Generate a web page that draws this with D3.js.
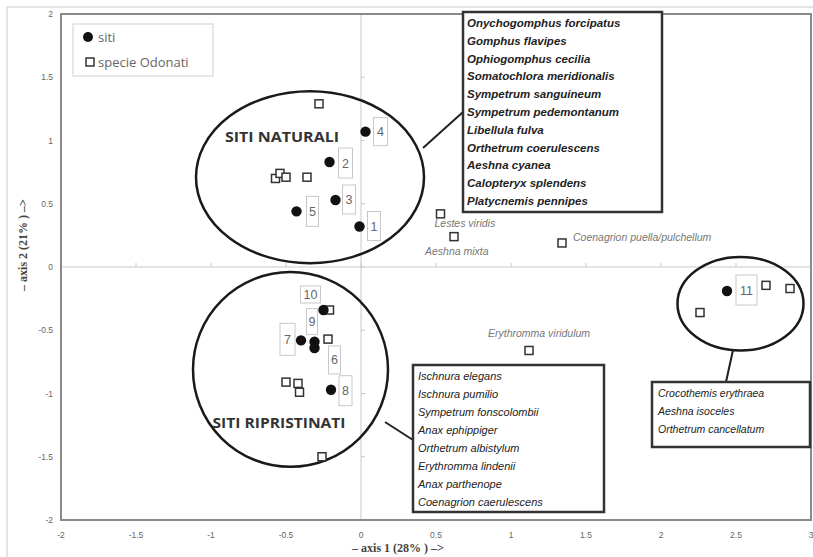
<!DOCTYPE html>
<html><head><meta charset="utf-8">
<script src="https://cdn.jsdelivr.net/npm/d3@7"></script>
<style>body{margin:0;background:#fff}svg{display:block}</style>
</head><body>
<svg id="c" width="813" height="557"></svg>
<script>
// ---- data ----
const xTicks = [-2,-1.5,-1,-0.5,0,0.5,1,1.5,2,2.5,3];
const yTicks = [-2,-1.5,-1,-0.5,0,0.5,1,1.5,2];
const siteLabels = ['1','2','3','4','5','6','7','8','9','10','11'];
const siteX = [-0.01,-0.21,-0.17,0.03,-0.43,-0.31,-0.40,-0.20,-0.31,-0.25,2.44];
const siteY = [0.32,0.83,0.53,1.07,0.44,-0.64,-0.58,-0.97,-0.59,-0.34,-0.19];
const speciesX = [-0.28,-0.36,-0.57,-0.54,-0.50,0.53,0.62,1.34,1.12,-0.21,-0.22,-0.50,-0.42,-0.41,-0.26,2.70,2.86,2.26];
const speciesY = [1.29,0.71,0.70,0.74,0.71,0.42,0.24,0.19,-0.66,-0.34,-0.57,-0.91,-0.92,-0.99,-1.50,-0.145,-0.17,-0.36];
const namedSpecies = ['Lestes viridis','Aeshna mixta','Coenagrion puella/pulchellum','Erythromma viridulum'];
const namedSpeciesIdx = [5,6,7,8];
const groupNames = ['SITI NATURALI','SITI RIPRISTINATI',''];
const groupCX = [-0.34,-0.47,2.53];
const groupCY = [0.71,-0.81,-0.29];
const groupRX = [0.76,0.65,0.42];
const groupRY = [0.68,0.77,0.37];
const naturalSpecies = ['Onychogomphus forcipatus','Gomphus flavipes','Ophiogomphus cecilia','Somatochlora meridionalis','Sympetrum sanguineum','Sympetrum pedemontanum','Libellula fulva','Orthetrum coerulescens','Aeshna cyanea','Calopteryx splendens','Platycnemis pennipes'];
const restoredSpecies = ['Ischnura elegans','Ischnura pumilio','Sympetrum fonscolombii','Anax ephippiger','Orthetrum albistylum','Erythromma lindenii','Anax parthenope','Coenagrion caerulescens'];
const site11Species = ['Crocothemis erythraea','Aeshna isoceles','Orthetrum cancellatum'];
const legendLabels = ['siti','specie Odonati'];
const xTitle = '\u2013 axis 1 (28% ) \u2013>';
const yTitle = '\u2013 axis 2 (21% ) \u2013>';

// ---- layout ----
const svg = d3.select('#c');
const x = d3.scaleLinear().domain([-2,3]).range([61,811]);
const y = d3.scaleLinear().domain([-2,2]).range([520,14]);

// outer frame
svg.append('path').attr('d','M7,557 V7 H813').attr('fill','none').attr('stroke','#ddd').attr('stroke-width',1.5);

// zero lines
svg.append('line').attr('x1',x(-2)).attr('x2',x(3)).attr('y1',y(0)).attr('y2',y(0)).attr('stroke','#c8c8c8');
svg.append('line').attr('x1',x(0)).attr('x2',x(0)).attr('y1',y(-2)).attr('y2',y(2)).attr('stroke','#c8c8c8');
svg.selectAll('.xt').data(xTicks).enter().append('line')
  .attr('x1',d=>x(d)).attr('x2',d=>x(d)).attr('y1',y(0)-4).attr('y2',y(0)).attr('stroke','#c8c8c8');
svg.selectAll('.yt').data(yTicks).enter().append('line')
  .attr('x1',x(0)).attr('x2',x(0)+4).attr('y1',d=>y(d)).attr('y2',d=>y(d)).attr('stroke','#c8c8c8');

// plot border
svg.append('rect').attr('x',x(-2)).attr('y',y(2)).attr('width',x(3)-x(-2)).attr('height',y(-2)-y(2))
  .attr('fill','none').attr('stroke','#8a8a8a').attr('stroke-width',2);

// tick labels
const fmt = d => String(d).replace('-', '-');
svg.selectAll('.xl').data(xTicks).enter().append('text')
  .attr('x',d=>x(d)).attr('y',538).attr('text-anchor','middle')
  .attr('font-family','Liberation Sans, Arial, sans-serif').attr('font-size',8.5).attr('fill','#666').text(fmt);
svg.selectAll('.yl').data(yTicks).enter().append('text')
  .attr('x',53).attr('y',d=>y(d)+3).attr('text-anchor','end')
  .attr('font-family','Liberation Sans, Arial, sans-serif').attr('font-size',8.5).attr('fill','#666').text(fmt);

// axis titles
svg.append('text').attr('x',398).attr('y',552).attr('text-anchor','middle')
  .attr('font-family','Liberation Serif, serif').attr('font-weight','bold').attr('font-size',12).attr('fill','#444').text(xTitle);
svg.append('text').attr('transform','translate(27,245) rotate(-90)').attr('text-anchor','middle')
  .attr('font-family','Liberation Serif, serif').attr('font-weight','bold').attr('font-size',12).attr('fill','#444').text(yTitle);

// legend
svg.append('rect').attr('x',73).attr('y',24).attr('width',140).attr('height',52).attr('fill','#fff').attr('stroke','#d0d0d0');
svg.append('circle').attr('cx',88).attr('cy',37).attr('r',5).attr('fill','#111');
svg.append('rect').attr('x',86).attr('y',58).attr('width',8).attr('height',8).attr('fill','#fff').attr('stroke','#333').attr('stroke-width',1.5);
svg.selectAll('.lg').data(legendLabels).enter().append('text')
  .attr('x',98).attr('y',(d,i)=>i===0?42:67)
  .attr('font-family','Open Sans, sans-serif').attr('font-size',13).attr('fill','#666').text(d=>d);

// group ellipses
svg.selectAll('.ell').data(groupCX).enter().append('ellipse')
  .attr('cx',(d,i)=>x(groupCX[i])).attr('cy',(d,i)=>y(groupCY[i]))
  .attr('rx',(d,i)=>x(groupRX[i])-x(0)).attr('ry',(d,i)=>y(0)-y(groupRY[i]))
  .attr('fill','none').attr('stroke','#1a1a1a').attr('stroke-width',2.5);
const gNamePos = [[282,142,114],[279,428,133]];
groupNames.forEach((n,i)=>{ if(!n) return;
  svg.append('text').attr('x',gNamePos[i][0]).attr('y',gNamePos[i][1]).attr('text-anchor','middle')
    .attr('font-family','Open Sans, sans-serif').attr('font-weight','bold').attr('font-size',14)
    .attr('textLength',gNamePos[i][2]).attr('lengthAdjust','spacingAndGlyphs')
    .attr('fill','#333').text(n);
});

// species list boxes
const boxes = [
  {list:naturalSpecies, x:463,y:12,w:199,h:200, tx:467, ty0:27, dy:17.8, fs:11.5, fw:'bold', line:[423,148,463,112]},
  {list:restoredSpecies, x:413,y:365,w:191,h:147, tx:418, ty0:380, dy:18, fs:11, fw:'normal', line:[385,422,413,440]},
  {list:site11Species, x:652,y:382,w:158,h:65, tx:658, ty0:397, dy:18, fs:10.5, fw:'normal', line:[733,350,726,382]}
];
boxes.forEach(b=>{
  svg.append('line').attr('x1',b.line[0]).attr('y1',b.line[1]).attr('x2',b.line[2]).attr('y2',b.line[3])
    .attr('stroke','#222').attr('stroke-width',2);
  svg.append('rect').attr('x',b.x).attr('y',b.y).attr('width',b.w).attr('height',b.h)
    .attr('fill','#fff').attr('stroke','#333').attr('stroke-width',2.5);
  svg.selectAll(null).data(b.list).enter().append('text')
    .attr('x',b.tx).attr('y',(d,i)=>b.ty0+i*b.dy)
    .attr('font-family','Liberation Sans, Arial, sans-serif').attr('font-style','italic')
    .attr('font-weight',b.fw).attr('font-size',b.fs).attr('fill','#222').text(d=>d);
});

// species squares
svg.selectAll('.sq').data(speciesX).enter().append('rect')
  .attr('x',(d,i)=>x(speciesX[i])-4).attr('y',(d,i)=>y(speciesY[i])-4)
  .attr('width',8).attr('height',8).attr('fill','#fff').attr('stroke','#333').attr('stroke-width',1.5);

// named species labels (offsets are layout)
const nameOff = [[-6,13],[-29,18],[11,-2],[-41,-13]];
namedSpecies.forEach((n,k)=>{
  const i = namedSpeciesIdx[k];
  svg.append('text').attr('x',x(speciesX[i])+nameOff[k][0]).attr('y',y(speciesY[i])+nameOff[k][1])
    .attr('font-family','Liberation Sans, Arial, sans-serif').attr('font-style','italic')
    .attr('font-size',10.5).attr('fill','#777').text(n);
});

// site points
svg.selectAll('.st').data(siteX).enter().append('circle')
  .attr('cx',(d,i)=>x(siteX[i])).attr('cy',(d,i)=>y(siteY[i])).attr('r',5.2).attr('fill','#111');

// site label boxes (offsets are layout: dx, dy, w, h)
const lbl = [[8,-15,13,29],[9,-14,14,30],[7,-15,13,29],[8,-14,14,28],[10,-15,12,30],
             [14,-2,12,28],[-21,-17,15,32],[8,-14,13,30],[-8,-33,11,26],[-23,-24,20,17],[9,-16,21,30]];
siteLabels.forEach((s,i)=>{
  const px = x(siteX[i]), py = y(siteY[i]), o = lbl[i];
  svg.append('rect').attr('x',px+o[0]).attr('y',py+o[1]).attr('width',o[2]).attr('height',o[3])
    .attr('fill','#fff').attr('stroke','#c8c8c8');
  svg.append('text').attr('x',px+o[0]+o[2]/2).attr('y',py+o[1]+o[3]/2+4.5).attr('text-anchor','middle')
    .attr('font-family','Liberation Sans, Arial, sans-serif').attr('font-size',12.5).attr('fill','#666').text(s);
});
</script>
</body></html>
